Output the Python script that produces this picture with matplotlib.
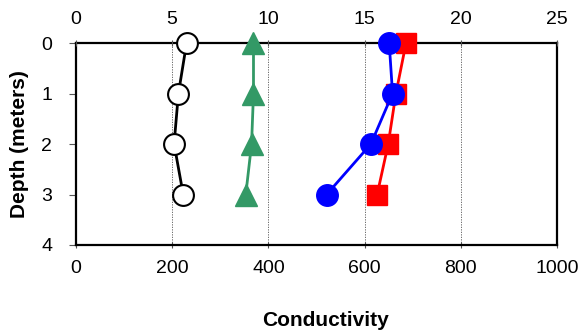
import matplotlib
matplotlib.use("Agg")
import matplotlib.pyplot as plt

plt.rcParams['font.family'] = ['Liberation Sans', 'DejaVu Sans']

depth = [0, 1, 2, 3]
open_circle = [230, 213, 204, 223]
green_triangle = [369, 369, 365, 353]
blue_circle = [651, 658, 613, 521]
red_square = [686, 665, 649, 626]

bottom_ticks = [0, 200, 400, 600, 800, 1000]
top_ticks = [0, 5, 10, 15, 20, 25]
depth_ticks = [0, 1, 2, 3, 4]

fig = plt.figure(figsize=(5.84, 3.30), dpi=100)
ax = fig.add_axes([0.130, 0.2576, 0.824, 0.612])

for x in bottom_ticks[1:-1]:
    ax.axvline(x, color='#555555', lw=0.6, ls=(0, (1.5, 1.5)), zorder=0)

ax.plot(open_circle, depth, color='black', lw=2, marker='o', ms=15,
        mfc='white', mec='black', mew=1.5, zorder=3, clip_on=False)
ax.plot(green_triangle, depth, color='#339966', lw=2, marker='^', ms=16,
        mfc='#339966', mec='#339966', zorder=3, clip_on=False)
ax.plot(red_square, depth, color='#ff0000', lw=2, marker='s', ms=15,
        mfc='#ff0000', mec='#ff0000', zorder=3, clip_on=False)
ax.plot(blue_circle, depth, color='#0000ff', lw=2, marker='o', ms=15.5,
        mfc='#0000ff', mec='#0000ff', zorder=4, clip_on=False)

ax.set_xlim(0, 1000)
ax.set_ylim(4, 0)
ax.set_xticks(bottom_ticks)
ax.set_xticklabels([str(t) for t in bottom_ticks], fontsize=14)
ax.set_yticks(depth_ticks)
ax.set_yticklabels([str(t) for t in depth_ticks], fontsize=14)
ax.tick_params(axis='both', length=5, width=0.8, color='#555555')
ax.tick_params(axis='x', direction='inout', pad=8)
ax.tick_params(axis='y', direction='out', pad=12)

for s in ax.spines.values():
    s.set_linewidth(1.6)

fig.text(0.557, 0.030, 'Conductivity', fontsize=15, fontweight='bold',
         ha='center', va='center')
fig.text(0.033, 0.5636, 'Depth (meters)', fontsize=15, fontweight='bold',
         ha='center', va='center', rotation=90)

top = ax.twiny()
top.set_xlim(0, 25)
top.set_xticks(top_ticks)
top.set_xticklabels([str(t) for t in top_ticks], fontsize=14)
top.tick_params(axis='x', length=5, width=0.8, color='#555555',
                direction='inout', pad=8)
for s in top.spines.values():
    s.set_visible(False)

fig.savefig('out.png', dpi=100)
